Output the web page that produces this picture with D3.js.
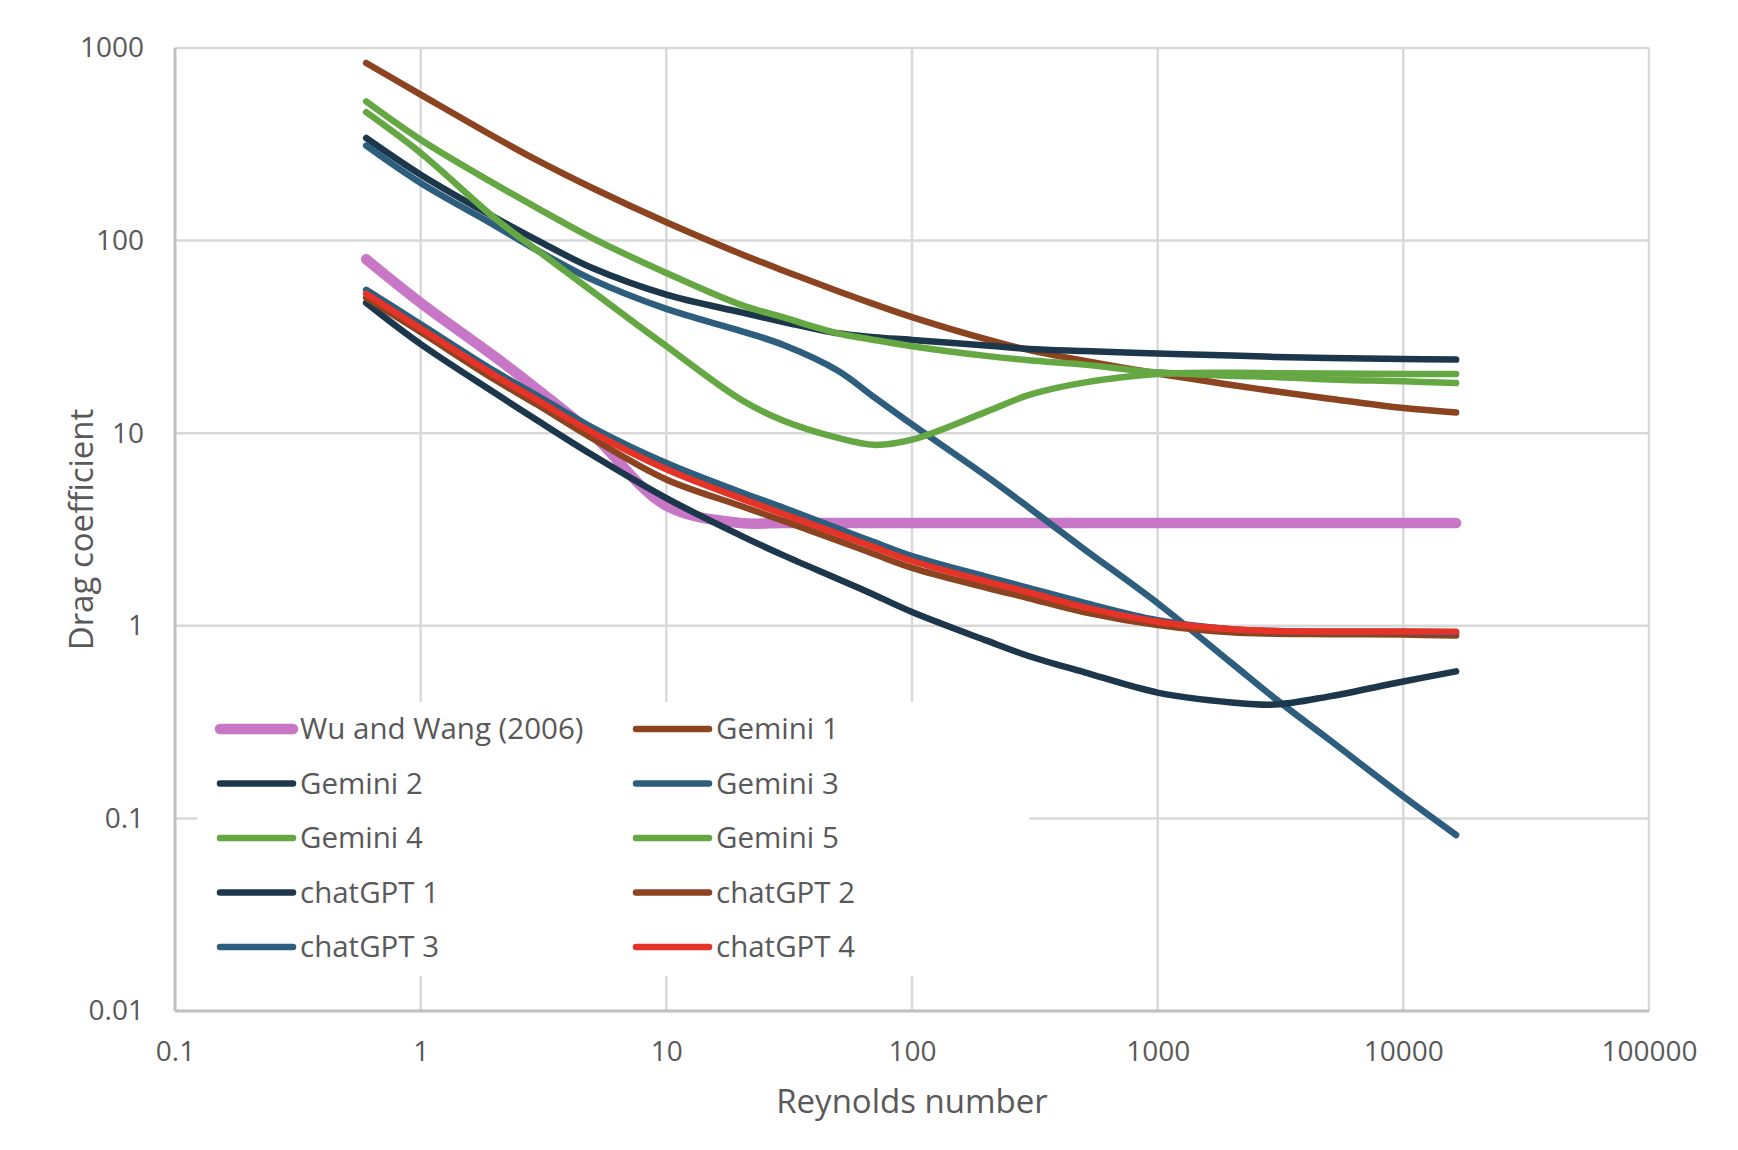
<!DOCTYPE html>
<html>
<head>
<meta charset="utf-8">
<script src="https://cdn.jsdelivr.net/npm/d3@7"></script>
<style>
  body { margin: 0; background: #fff; }
  text { font-family: "Open Sans", sans-serif; fill: #595959; }
</style>
</head>
<body>
<script>
// Drag coefficient vs Reynolds number, log-log

var reynolds = [0.6, 1, 2, 3, 5, 10, 20, 30, 50, 70, 100, 200, 300, 500, 1000, 2000, 3000, 5000, 10000, 16400];

var wuWang   = [80, 47.5, 25, 16.8, 9.9, 4.2, 3.42, 3.42, 3.42, 3.42, 3.42, 3.42, 3.42, 3.42, 3.42, 3.42, 3.42, 3.42, 3.42, 3.42];
var gemini1  = [836, 573, 345, 260, 187.5, 124.5, 85.5, 69.8, 54.6, 46.8, 40.1, 30.8, 27.0, 23.8, 20.4, 17.8, 16.5, 15.1, 13.5, 12.8];
var gemini2  = [341, 220, 132, 100, 72, 52.4, 42.5, 37.8, 33, 31.5, 30.5, 28.5, 27.4, 26.7, 25.9, 25.3, 24.9, 24.6, 24.3, 24.1];
var gemini3  = [311, 199, 120, 88.7, 62.7, 44.2, 34, 28.7, 21.1, 15.4, 11.1, 6.0, 4.1, 2.51, 1.31, 0.64, 0.42, 0.256, 0.13, 0.082];
var gemini4  = [528, 334, 197, 147, 103, 67.9, 46.5, 39.9, 33, 30.5, 28.3, 25.2, 23.9, 22.7, 20.7, 19.9, 19.6, 19.0, 18.6, 18.2];
var gemini5  = [464, 285, 131, 88.5, 54.5, 28.3, 15, 11.6, 9.45, 8.7, 9.25, 12.9, 15.8, 18.3, 20.3, 20.6, 20.5, 20.4, 20.3, 20.3];
var chatGPT1 = [47.5, 29, 16.2, 11.6, 7.7, 4.6, 2.95, 2.32, 1.75, 1.45, 1.18, 0.84, 0.695, 0.575, 0.45, 0.40, 0.39, 0.43, 0.514, 0.58];
var chatGPT2 = [50.5, 33.5, 19.0, 14.0, 9.4, 5.75, 4.2, 3.5, 2.77, 2.36, 2.0, 1.58, 1.39, 1.18, 1.01, 0.925, 0.91, 0.905, 0.90, 0.89];
var chatGPT3 = [55.5, 36.8, 21, 15.6, 10.7, 7.0, 4.95, 4.1, 3.2, 2.72, 2.3, 1.8, 1.57, 1.32, 1.07, 0.96, 0.94, 0.93, 0.93, 0.92];
var chatGPT4 = [53, 35, 20, 14.8, 10.1, 6.5, 4.6, 3.8, 3.0, 2.56, 2.17, 1.7, 1.49, 1.25, 1.05, 0.96, 0.94, 0.935, 0.935, 0.93];

var seriesNames = ["Wu and Wang (2006)", "Gemini 1", "Gemini 2", "Gemini 3", "Gemini 4",
                   "Gemini 5", "chatGPT 1", "chatGPT 2", "chatGPT 3", "chatGPT 4"];
var seriesValues = [wuWang, gemini1, gemini2, gemini3, gemini4, gemini5, chatGPT1, chatGPT2, chatGPT3, chatGPT4];
var seriesColors = ["#c876c6", "#8b4320", "#1c374b", "#2d5e7e", "#65a843",
                    "#65a843", "#1c374b", "#8b4320", "#2d5e7e", "#e63327"];

var xTicks = [0.1, 1, 10, 100, 1000, 10000, 100000];
var xTickLabels = ["0.1", "1", "10", "100", "1000", "10000", "100000"];
var yTicks = [0.01, 0.1, 1, 10, 100, 1000];
var yTickLabels = ["0.01", "0.1", "1", "10", "100", "1000"];

var margin = {top: 48, right: 89, bottom: 139, left: 175},
    width = 1738 - margin.left - margin.right,
    height = 1150 - margin.top - margin.bottom;

var x = d3.scaleLog().domain([0.1, 100000]).range([0, width]);
var y = d3.scaleLog().domain([0.01, 1000]).range([height, 0]);

var svg = d3.select("body").append("svg")
    .attr("width", width + margin.left + margin.right)
    .attr("height", height + margin.top + margin.bottom)
  .append("g")
    .attr("transform", "translate(" + margin.left + "," + margin.top + ")");

// gridlines
svg.append("g")
    .attr("class", "grid")
    .selectAll("line")
    .data(xTicks.slice(1))
    .enter().append("line")
    .attr("x1", function(d) { return x(d); })
    .attr("x2", function(d) { return x(d); })
    .attr("y1", 0)
    .attr("y2", height)
    .style("stroke", "#d9d9d9")
    .style("stroke-width", 2.5);

svg.append("g")
    .attr("class", "grid")
    .selectAll("line")
    .data(yTicks.slice(1))
    .enter().append("line")
    .attr("x1", 0)
    .attr("x2", width)
    .attr("y1", function(d) { return y(d); })
    .attr("y2", function(d) { return y(d); })
    .style("stroke", "#d9d9d9")
    .style("stroke-width", 2.5);

// axes
var xAxis = d3.axisBottom(x)
    .tickValues(xTicks)
    .tickFormat(function(d, i) { return xTickLabels[i]; })
    .tickSize(0)
    .tickPadding(30);

var yAxis = d3.axisLeft(y)
    .tickValues(yTicks)
    .tickFormat(function(d, i) { return yTickLabels[i]; })
    .tickSize(0)
    .tickPadding(31);

svg.append("g")
    .attr("class", "x axis")
    .attr("transform", "translate(0," + height + ")")
    .call(xAxis)
    .call(function(g) { g.select(".domain").remove(); })
    .selectAll("text")
    .style("font-size", "28px");

svg.append("g")
    .attr("class", "y axis")
    .call(yAxis)
    .call(function(g) { g.select(".domain").remove(); })
    .selectAll("text")
    .style("font-size", "28px");

svg.append("line")
    .attr("x1", 0).attr("x2", 0).attr("y1", 0).attr("y2", height)
    .style("stroke", "#bfbfbf").style("stroke-width", 3);
svg.append("line")
    .attr("x1", 0).attr("x2", width).attr("y1", height).attr("y2", height)
    .style("stroke", "#bfbfbf").style("stroke-width", 3);

// legend background (hides the gridlines behind it)
var legendBox = {x: 22, y: 654, w: 832, h: 274};
svg.append("rect")
    .attr("x", legendBox.x)
    .attr("y", legendBox.y)
    .attr("width", legendBox.w)
    .attr("height", legendBox.h)
    .style("fill", "#fff");

// series lines, smoothed like the spreadsheet
var line = d3.line()
    .curve(d3.curveCatmullRom.alpha(0.5))
    .x(function(d) { return x(d[0]); })
    .y(function(d) { return y(d[1]); });

svg.selectAll(".series")
    .data(seriesValues)
    .enter()
  .append("path")
    .attr("class", "series")
    .attr("d", function(vals) { return line(reynolds.map(function(r, i) { return [r, vals[i]]; })); })
    .style("fill", "none")
    .style("stroke", function(d, i) { return seriesColors[i]; })
    .style("stroke-width", function(d, i) { return i === 0 ? 10.5 : 6.5; })
    .style("stroke-linecap", "round")
    .style("stroke-linejoin", "round");

// legend
var legend = svg.append("g").attr("class", "legend");
var colX = [45, 461], rowY0 = 681, rowGap = 54.5;

var item = legend.selectAll(".item")
    .data(seriesNames)
    .enter()
  .append("g")
    .attr("class", "item")
    .attr("transform", function(d, i) {
      return "translate(" + colX[i % 2] + "," + (rowY0 + Math.floor(i / 2) * rowGap) + ")";
    });

item.append("line")
    .attr("x1", 0).attr("x2", 73)
    .attr("y1", 0).attr("y2", 0)
    .style("stroke", function(d, i) { return seriesColors[i]; })
    .style("stroke-width", function(d, i) { return i === 0 ? 10.5 : 6.5; })
    .style("stroke-linecap", "round");

item.append("text")
    .attr("x", 80)
    .attr("dy", "0.35em")
    .style("font-size", "29.5px")
    .text(function(d) { return d; });

// axis titles
svg.append("text")
    .attr("x", width / 2)
    .attr("y", height + 90)
    .attr("dy", "0.35em")
    .attr("text-anchor", "middle")
    .style("font-size", "33px")
    .text("Reynolds number");

svg.append("text")
    .attr("transform", "translate(" + (81 - margin.left) + "," + (height / 2) + ") rotate(-90)")
    .attr("dy", "0.35em")
    .attr("text-anchor", "middle")
    .style("font-size", "33px")
    .text("Drag coefficient");
</script>
</body>
</html>
